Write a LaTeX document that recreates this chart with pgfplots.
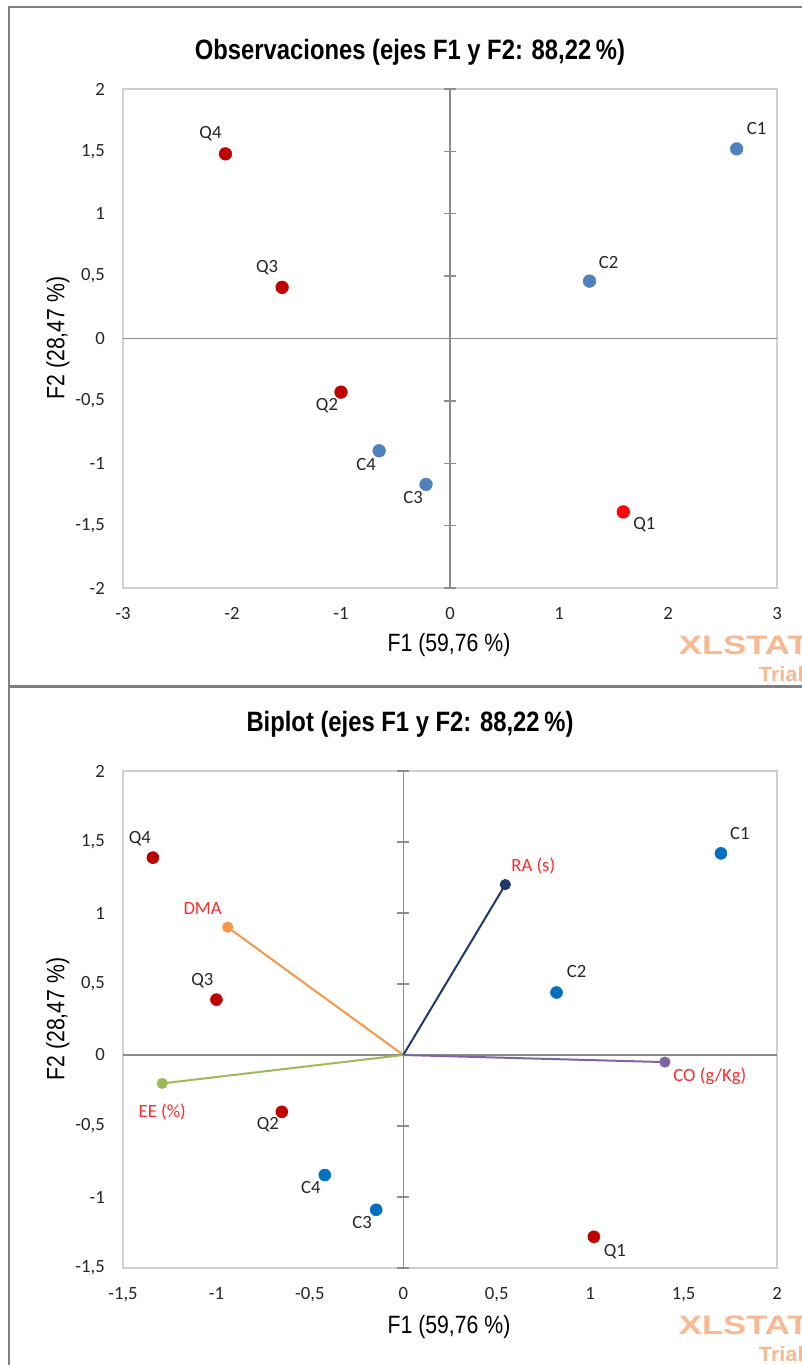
\documentclass[border=0pt]{standalone}
\usepackage{pgfplots}
\pgfplotsset{compat=1.18}
\usepackage{fontspec}
\setmainfont{Carlito}
\newfontfamily\narrowfont[FakeStretch=0.85]{Liberation Sans}
\newfontfamily\wmfont[FakeStretch=1.3]{Liberation Sans}
\newfontfamily\wmfontb[FakeStretch=1.05]{Liberation Sans}
\definecolor{cblueA}{HTML}{4F81BD}
\definecolor{cblueB}{HTML}{0070C0}
\definecolor{qred}{HTML}{C00000}
\definecolor{qbright}{HTML}{FF0000}
\definecolor{ranavy}{HTML}{1F3864}
\definecolor{dmaor}{HTML}{F79646}
\definecolor{eegreen}{HTML}{9BBB59}
\definecolor{copurple}{HTML}{8064A2}
\definecolor{varred}{HTML}{FF2B2B}
\definecolor{wm}{RGB}{248,184,145}
\definecolor{boxgray}{HTML}{CFCFCF}
\definecolor{zerogray}{HTML}{8C8C8C}
\definecolor{framegray}{HTML}{7F7F7F}
\newcommand\lbl{\fontsize{14}{16}\selectfont}
\newcommand\ttl{\narrowfont\bfseries\fontsize{21}{25}\selectfont}
\newcommand\axl{\narrowfont\fontsize{18.75}{22}\selectfont}
\pgfplotsset{
  pcastyle/.style={
    scale only axis,
    width=490.5pt,
    axis line style={boxgray, line width=1pt},
    major tick length=0pt,
    tick style={draw=none},
    ticklabel style={font=\lbl, text=black!85, inner sep=0pt},
    yticklabel style={anchor=east, xshift=-13.5pt},
    xticklabel style={anchor=north, yshift=-14.25pt},
    clip=false,
  },
  lblpts/.style={
    nodes near coords, point meta=explicit symbolic,
    visualization depends on={\thisrow{dx}\as\dx},
    visualization depends on={\thisrow{dy}\as\dy},
    every node near coord/.append style={anchor=center, xshift=\dx pt, yshift=\dy pt, text=black!85, font=\lbl, inner sep=0pt},
  },
}
\begin{document}
\begin{tikzpicture}
\path[use as bounding box] (0,0) rectangle (601.5pt,1023.75pt);
\clip (0,0) rectangle (601.5pt,1023.75pt);
\fill[white] (0,0) rectangle (601.5pt,1023.75pt);
% panel frames
\draw[framegray, line width=1.5pt] (6.75pt,508.5pt) rectangle (612pt,1018.5pt);
\draw[framegray, line width=1.5pt] (6.75pt,-10pt) rectangle (612pt,508.5pt);
\draw[framegray, line width=2.25pt] (6.75pt,508.5pt) -- (612pt,508.5pt);

% ---------------- Top: Observaciones ----------------
\begin{axis}[pcastyle, at={(92.25pt,582.75pt)}, anchor=south west,
  height=374.25pt,
  xmin=-3, xmax=3, ymin=-2, ymax=2,
  xtick={-3,-2,-1,0,1,2,3},
  xticklabels={-3,-2,-1,0,1,2,3},
  ytick={-2,-1.5,-1,-0.5,0,0.5,1,1.5,2},
  yticklabels={-2,{-1,5},-1,{-0,5},0,{0,5},1,{1,5},2},
]
\addplot[zerogray, line width=1pt] coordinates {(-3,0) (3,0)};
\addplot[zerogray, line width=1pt] coordinates {(0,-2) (0,2)};
\addplot[only marks, mark=-, mark size=4.5pt, zerogray, mark options={line width=1pt}]
  coordinates {(0,-2) (0,-1.5) (0,-1) (0,-0.5) (0,0.5) (0,1) (0,1.5) (0,2)};
\addplot[only marks, mark=*, mark size=4.75pt, color=cblueA, lblpts] table[meta=lab] {
x y lab dx dy
2.63 1.52 C1 15 15
1.28 0.46 C2 14.25 14.25
-0.22 -1.17 C3 -9.75 -9.75
-0.65 -0.90 C4 -9.75 -10.5
};
\addplot[only marks, mark=*, mark size=4.75pt, color=qred, lblpts] table[meta=lab] {
x y lab dx dy
-1.00 -0.43 Q2 -10.5 -10.5
-1.54 0.41 Q3 -11.25 15
-2.06 1.48 Q4 -11.25 15
};
\addplot[only marks, mark=*, mark size=4.75pt, color=qbright, lblpts] table[meta=lab] {
x y lab dx dy
1.59 -1.39 Q1 15.75 -9.75
};
\end{axis}
\node[font=\ttl] at (307.5pt,984.75pt) {Observaciones (ejes F1 y F2: 88,22\,\%)};
\node[font=\axl] at (336.75pt,540pt) {F1 (59,76 \%)};
\node[font=\axl, rotate=90] at (43.5pt,770.25pt) {F2 (28,47 \%)};
\node[font=\wmfont\bfseries\fontsize{20}{22}\selectfont, text=wm, anchor=west, inner sep=0pt] at (509pt,540pt) {XLSTAT};
\node[font=\wmfontb\bfseries\fontsize{15.5}{17}\selectfont, text=wm, anchor=west, inner sep=0pt] at (569pt,518pt) {Trial};

% ---------------- Bottom: Biplot ----------------
\begin{axis}[pcastyle, at={(92.25pt,72.75pt)}, anchor=south west,
  height=372.75pt,
  xmin=-1.5, xmax=2, ymin=-1.5, ymax=2,
  xtick={-1.5,-1,-0.5,0,0.5,1,1.5,2},
  xticklabels={{-1,5},-1,{-0,5},0,{0,5},1,{1,5},2},
  ytick={-1.5,-1,-0.5,0,0.5,1,1.5,2},
  yticklabels={{-1,5},-1,{-0,5},0,{0,5},1,{1,5},2},
]
\addplot[zerogray, line width=1pt] coordinates {(-1.5,0) (2,0)};
\addplot[zerogray, line width=1pt] coordinates {(0,-1.5) (0,2)};
\addplot[only marks, mark=-, mark size=4.5pt, zerogray, mark options={line width=1pt}]
  coordinates {(0,-1.5) (0,-1) (0,-0.5) (0,0.5) (0,1) (0,1.5) (0,2)};
% variable vectors
\addplot[dmaor, line width=1.5pt, mark=*, mark size=3.4pt, mark indices={2}]
  coordinates {(0,0) (-0.94,0.90)} node[pos=1, xshift=-18.75pt, yshift=14.25pt, text=varred, font=\lbl] {DMA};
\addplot[eegreen, line width=1.5pt, mark=*, mark size=3.4pt, mark indices={2}]
  coordinates {(0,0) (-1.29,-0.20)} node[pos=1, yshift=-21.75pt, text=varred, font=\lbl] {EE (\%)};
\addplot[ranavy, line width=1.5pt, mark=*, mark size=3.4pt, mark indices={2}]
  coordinates {(0,0) (0.546,1.20)} node[pos=1, xshift=21pt, yshift=14.25pt, text=varred, font=\lbl] {RA (s)};
\addplot[copurple, line width=1.5pt, mark=*, mark size=3.4pt, mark indices={2}]
  coordinates {(0,0) (1.40,-0.05)} node[pos=1, xshift=33.75pt, yshift=-10.5pt, text=varred, font=\lbl] {CO (g/Kg)};
% observations
\addplot[only marks, mark=*, mark size=4.5pt, color=cblueB, lblpts] table[meta=lab] {
x y lab dx dy
1.70 1.42 C1 14.25 15
0.82 0.44 C2 15 15.75
-0.145 -1.09 C3 -10.5 -9.75
-0.42 -0.845 C4 -10.5 -9.75
};
\addplot[only marks, mark=*, mark size=4.5pt, color=qred, lblpts] table[meta=lab] {
x y lab dx dy
1.02 -1.28 Q1 15.75 -11.25
-0.65 -0.40 Q2 -10.5 -9.75
-1.00 0.39 Q3 -10.5 14.25
-1.34 1.39 Q4 -9.75 14.25
};
\end{axis}
\node[font=\ttl] at (307.5pt,480.75pt) {Biplot (ejes F1 y F2: 88,22\,\%)};
\node[font=\axl] at (336.75pt,28.5pt) {F1 (59,76 \%)};
\node[font=\axl, rotate=90] at (43.5pt,259.5pt) {F2 (28,47 \%)};
\node[font=\wmfont\bfseries\fontsize{20}{22}\selectfont, text=wm, anchor=west, inner sep=0pt] at (509pt,30pt) {XLSTAT};
\node[font=\wmfontb\bfseries\fontsize{15.5}{17}\selectfont, text=wm, anchor=west, inner sep=0pt] at (569pt,8pt) {Trial};
\end{tikzpicture}
\end{document}
